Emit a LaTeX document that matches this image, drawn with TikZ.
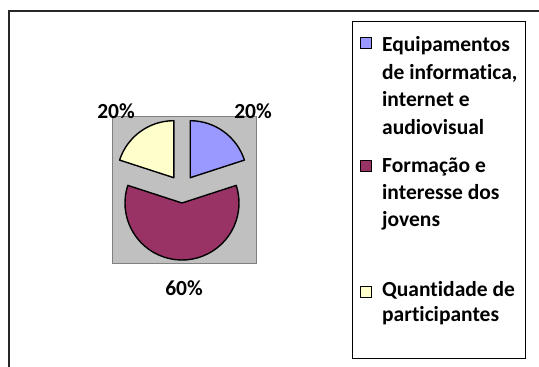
\documentclass[tikz,border=0pt]{standalone}
\usepackage{fontspec}
\setmainfont{Carlito}[Ligatures={NoCommon}]
\definecolor{sblue}{HTML}{9999FF}
\definecolor{smaroon}{HTML}{993366}
\definecolor{syellow}{HTML}{FFFFCC}
\definecolor{plotgray}{HTML}{C0C0C0}
\definecolor{plotedge}{HTML}{808080}
\begin{document}
\begin{tikzpicture}[x=1pt,y=1pt,
  lbl/.style={font=\fontsize{21.5}{26}\selectfont\bfseries, inner sep=0pt},
  legtext/.style={font=\fontsize{21.5}{26}\selectfont\bfseries, inner sep=0pt, anchor=base west},
  keybox/.style={draw=black, line width=1pt, minimum size=11pt, inner sep=0pt},
  slice/.style={draw=black, line width=1.4pt, line join=round}]
\useasboundingbox (0,0) rectangle (539,367);
% outer frame
\coordinate (f1) at (9,0);
\coordinate (f2) at (9,356);
\coordinate (f3) at (539,356);
\draw[line width=1.5pt, black!85] (f1) -- (f2) -- (f3);
% plot area
\node[draw=plotedge, fill=plotgray, line width=1.2pt, minimum width=144pt, minimum height=147pt, inner sep=0pt, anchor=south west] (plot) at (112,103) {};
% slices
\coordinate (cb) at (190.2,189.3);
\coordinate (cy) at (173.8,189.3);
\coordinate (cm) at (182,164);
\draw[slice, fill=sblue] (cb) -- ++(18:57) arc[start angle=18, end angle=90, radius=57] -- cycle;
\draw[slice, fill=syellow] (cy) -- ++(90:57) arc[start angle=90, end angle=162, radius=57] -- cycle;
\draw[slice, fill=smaroon] (cm) -- ++(162:57) arc[start angle=162, end angle=378, radius=57] -- cycle;
% labels
\node[lbl] (pb) at (253,255.5) {20\%};
\node[lbl] (py) at (116,255.5) {20\%};
\node[lbl] (pm) at (184,79) {60\%};
% legend
\node[draw=black, line width=1.2pt, minimum width=173pt, minimum height=337pt, inner sep=0pt, anchor=south west] (legend) at (352,8) {};
\node[keybox, fill=sblue] (k1) at (366,323.5) {};
\node[keybox, fill=smaroon] (k2) at (366,201) {};
\node[keybox, fill=syellow] (k3) at (366,74.5) {};
\node[legtext] (t1a) at (382,315) {Equipamentos};
\node[legtext] (t1b) at (382,287) {de informatica,};
\node[legtext] (t1c) at (382,260) {internet e};
\node[legtext] (t1d) at (382,232) {audiovisual};
\node[legtext] (t2a) at (382,194) {Formação e};
\node[legtext] (t2b) at (382,167) {interesse dos};
\node[legtext] (t2c) at (382,140) {jovens};
\node[legtext] (t3a) at (382,70) {Quantidade de};
\node[legtext] (t3b) at (382,45) {participantes};
\end{tikzpicture}
\end{document}
